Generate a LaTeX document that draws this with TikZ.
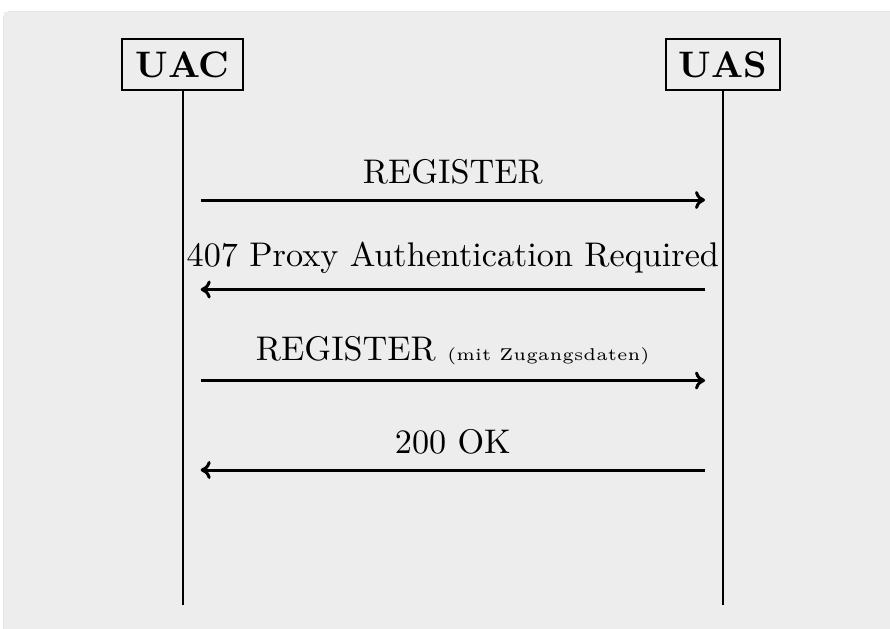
\documentclass[tikz,border=0pt]{standalone}
\usepackage{graphicx}
\usetikzlibrary{arrows.meta}
\newcommand\scaledtxt[1]{\scalebox{1.71}{#1}}
\begin{document}
\begin{tikzpicture}[x=0.5pt,y=-0.5pt,
  actor/.style={draw,line width=1pt,inner sep=0pt,minimum height=25.35pt,font=\fontsize{10.8}{13}\selectfont\bfseries},
  lifeline/.style={line width=1pt},
  msg/.style={line width=1.5pt,-{To[length=5pt,width=9pt]}},
  lbl/.style={anchor=south,inner sep=0pt,font=\fontsize{10}{12}\selectfont},
  panel/.style={draw=black!30,fill=black!7,line width=0.5pt,rounded corners=3pt}]
\useasboundingbox (0,0) rectangle (890,628);
\fill[white] (0,0) rectangle (890,628);
\draw[panel] (4,640) -- (4,12) -- (900,12);
\fill[black!7] (4.3,12.3) rectangle (900,640);
\node[actor,minimum width=60.2pt] (uac) at (182.5,64.7) {\scaledtxt{UAC}};
\node[actor,minimum width=57.3pt] (uas) at (723,64.7) {\scaledtxt{UAS}};
\coordinate (uacend) at (182.7,605);
\coordinate (uasend) at (722.7,605);
\draw[lifeline] (uac.south) -- (uac.south |- uacend);
\draw[lifeline] (uas.south) -- (uas.south |- uasend);
\coordinate (a1) at (200.7,200); \coordinate (b1) at (705,200);
\coordinate (a2) at (200.7,289.5); \coordinate (b2) at (705,289.5);
\coordinate (a3) at (200.7,380.5); \coordinate (b3) at (705,380.5);
\coordinate (a4) at (200.7,470); \coordinate (b4) at (705,470);
\draw[msg] (a1) -- node[lbl,yshift=7pt] (l1) {\scaledtxt{REGISTER}} (b1);
\draw[msg] (b2) -- node[lbl,yshift=7pt] (l2) {\scaledtxt{407 Proxy Authentication Required}} (a2);
\draw[msg] (a3) -- node[lbl,yshift=7pt] (l3) {\scaledtxt{REGISTER {\tiny(mit Zugangsdaten)}}} (b3);
\draw[msg] (b4) -- node[lbl,yshift=7pt] (l4) {\scaledtxt{200 OK}} (a4);
\end{tikzpicture}
\end{document}
